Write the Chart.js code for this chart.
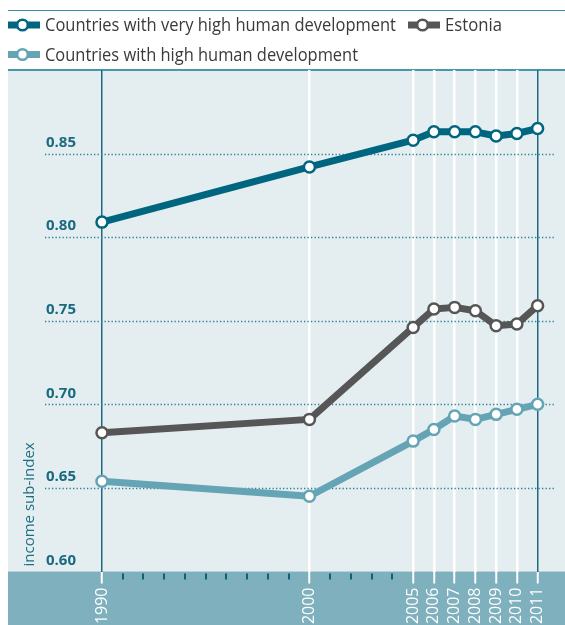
<!DOCTYPE html>
<html>
<head>
<meta charset="utf-8">
<script src="https://cdn.jsdelivr.net/npm/chart.js@4/dist/chart.umd.min.js"></script>
<style>
html,body{margin:0;padding:0;background:#ffffff;}
#wrap{width:565px;height:625px;position:relative;}
canvas{display:block;}
</style>
</head>
<body>
<div id="wrap"><canvas id="c" width="565" height="625"></canvas></div>
<script>
// ---- data ----
const years = [1990, 2000, 2005, 2006, 2007, 2008, 2009, 2010, 2011];
const veryHigh = [0.809, 0.842, 0.858, 0.863, 0.863, 0.863, 0.8605, 0.862, 0.865];
const estonia = [0.683, 0.691, 0.746, 0.757, 0.758, 0.756, 0.747, 0.748, 0.759];
const high = [0.654, 0.645, 0.678, 0.685, 0.693, 0.691, 0.694, 0.697, 0.700];
const seriesNames = ['Countries with very high human development', 'Estonia', 'Countries with high human development'];
const yTickValues = [0.60, 0.65, 0.70, 0.75, 0.80, 0.85];
const dottedValues = [0.65, 0.70, 0.75, 0.80, 0.85];
const minorYears = [1991, 1992, 1993, 1994, 1995, 1996, 1997, 1998, 1999, 2001, 2002, 2003, 2004];
const edgeYears = [1990, 2011];
const yTitle = 'income sub-index';

// ---- styles ----
const C_DARK = '#00657f';
const C_GREY = '#565656';
const C_LIGHT = '#65a4b4';
const C_TEXT = '#3a3a3a';
const C_AXIS = '#1a6a80';
const C_PLOT = '#e4eef1';
const C_BAND = '#7eb0bd';
const FONT = "'Open Sans', 'Noto Sans', sans-serif";

function toPoints(vals) { return years.map((y, i) => ({x: y, y: vals[i]})); }

function ds(label, vals, color) {
  return {
    label: label,
    data: toPoints(vals),
    borderColor: color,
    backgroundColor: color,
    borderWidth: 7,
    pointRadius: 5.5,
    pointBorderWidth: 2.5,
    pointBackgroundColor: '#ffffff',
    pointBorderColor: color,
    tension: 0,
    clip: false,
    borderJoinStyle: 'round'
  };
}

const bgPlugin = {
  id: 'bg',
  beforeDraw(chart) {
    const {ctx, chartArea: a, width, height} = chart;
    ctx.save();
    ctx.fillStyle = C_PLOT;
    ctx.fillRect(a.left, a.top, width - a.left, a.bottom - a.top);
    ctx.fillStyle = C_BAND;
    ctx.fillRect(a.left, a.bottom, width - a.left, height - a.bottom);
    // top rules
    ctx.strokeStyle = '#3b8da1';
    ctx.lineWidth = 1.2;
    ctx.beginPath(); ctx.moveTo(a.left, 10.5); ctx.lineTo(width, 10.5); ctx.stroke();
    ctx.strokeStyle = '#4a97aa';
    ctx.lineWidth = 2;
    ctx.beginPath(); ctx.moveTo(a.left, a.top); ctx.lineTo(width, a.top); ctx.stroke();
    ctx.restore();
  },
  beforeDatasetsDraw(chart) {
    const {ctx, scales: {x, y}} = chart;
    ctx.save();
    // dotted horizontal grid
    ctx.strokeStyle = '#2b7f96';
    ctx.lineWidth = 1.3;
    ctx.setLineDash([1.3, 2.2]);
    dottedValues.forEach(v => {
      const py = Math.round(y.getPixelForValue(v)) + 0.5;
      ctx.beginPath(); ctx.moveTo(45, py); ctx.lineTo(554, py); ctx.stroke();
    });
    ctx.setLineDash([]);
    // minor ticks on band
    ctx.strokeStyle = '#0f6079';
    ctx.lineWidth = 2;
    minorYears.forEach(v => {
      const px = Math.round(x.getPixelForValue(v));
      ctx.beginPath(); ctx.moveTo(px, y.bottom + 2); ctx.lineTo(px, y.bottom + 8); ctx.stroke();
    });
    // y title
    ctx.translate(30, y.bottom - 5);
    ctx.rotate(-Math.PI / 2);
    ctx.fillStyle = '#1f6e84';
    ctx.font = '15px ' + FONT;
    ctx.textAlign = 'left';
    ctx.textBaseline = 'middle';
    ctx.fillText(yTitle, 0, 0, 130);
    ctx.restore();
  },
  afterDraw(chart) {
    const ctx = chart.ctx;
    const sets = chart.data.datasets;
    const slots = [
      {x: 8, y: 25, w: 351},
      {x: 408, y: 25, w: 57},
      {x: 8, y: 54.5, w: 313}
    ];
    ctx.save();
    sets.forEach((d, i) => {
      const s = slots[i];
      ctx.strokeStyle = d.borderColor;
      ctx.lineWidth = 7;
      ctx.beginPath(); ctx.moveTo(s.x, s.y); ctx.lineTo(s.x + 32, s.y); ctx.stroke();
      ctx.fillStyle = '#ffffff';
      ctx.lineWidth = 2.5;
      ctx.beginPath(); ctx.arc(s.x + 14.5, s.y, 5.3, 0, Math.PI * 2); ctx.fill(); ctx.stroke();
      ctx.fillStyle = C_TEXT;
      ctx.font = '18px ' + FONT;
      ctx.textAlign = 'left';
      ctx.textBaseline = 'middle';
      ctx.fillText(d.label, s.x + 37, s.y + 1, s.w);
    });
    ctx.restore();
  }
};

const isEdge = c => c.tick && edgeYears.includes(c.tick.value);

new Chart(document.getElementById('c'), {
  type: 'line',
  data: {
    datasets: [
      ds(seriesNames[0], veryHigh, C_DARK),
      ds(seriesNames[1], estonia, C_GREY),
      ds(seriesNames[2], high, C_LIGHT)
    ]
  },
  options: {
    responsive: false,
    animation: false,
    events: [],
    layout: {autoPadding: false, padding: {left: 8, top: 70, right: 0, bottom: 0}},
    plugins: {legend: {display: false}, tooltip: {enabled: false}},
    scales: {
      x: {
        type: 'linear',
        min: 1985.47,
        max: 2012.32,
        afterBuildTicks: s => { s.ticks = years.map(v => ({value: v})); },
        afterFit: s => { s.height = 53.5; s.paddingLeft = 0; s.paddingRight = 0; },
        border: {display: false},
        grid: {
          color: c => isEdge(c) ? '#1d6a80' : '#ffffff',
          lineWidth: c => isEdge(c) ? 1.5 : 2.5,
          tickColor: '#ffffff',
          tickWidth: 2,
          tickLength: 12
        },
        ticks: {
          autoSkip: false,
          minRotation: 90,
          maxRotation: 90,
          padding: 4,
          color: '#ffffff',
          font: {family: FONT, size: 16, weight: '500'},
          callback: v => String(v)
        }
      },
      y: {
        type: 'linear',
        min: 0.6,
        max: 0.9,
        afterBuildTicks: s => { s.ticks = yTickValues.map(v => ({value: v})); },
        afterFit: s => { s.width = 0; s.paddingTop = 0; s.paddingBottom = 0; },
        border: {display: false},
        grid: {display: false},
        ticks: {
          mirror: true,
          padding: 38,
          labelOffset: -11,
          color: C_AXIS,
          font: {family: FONT, size: 15, weight: 'bold'},
          callback: v => v.toFixed(2)
        }
      }
    }
  },
  plugins: [bgPlugin]
});
</script>
</body>
</html>
